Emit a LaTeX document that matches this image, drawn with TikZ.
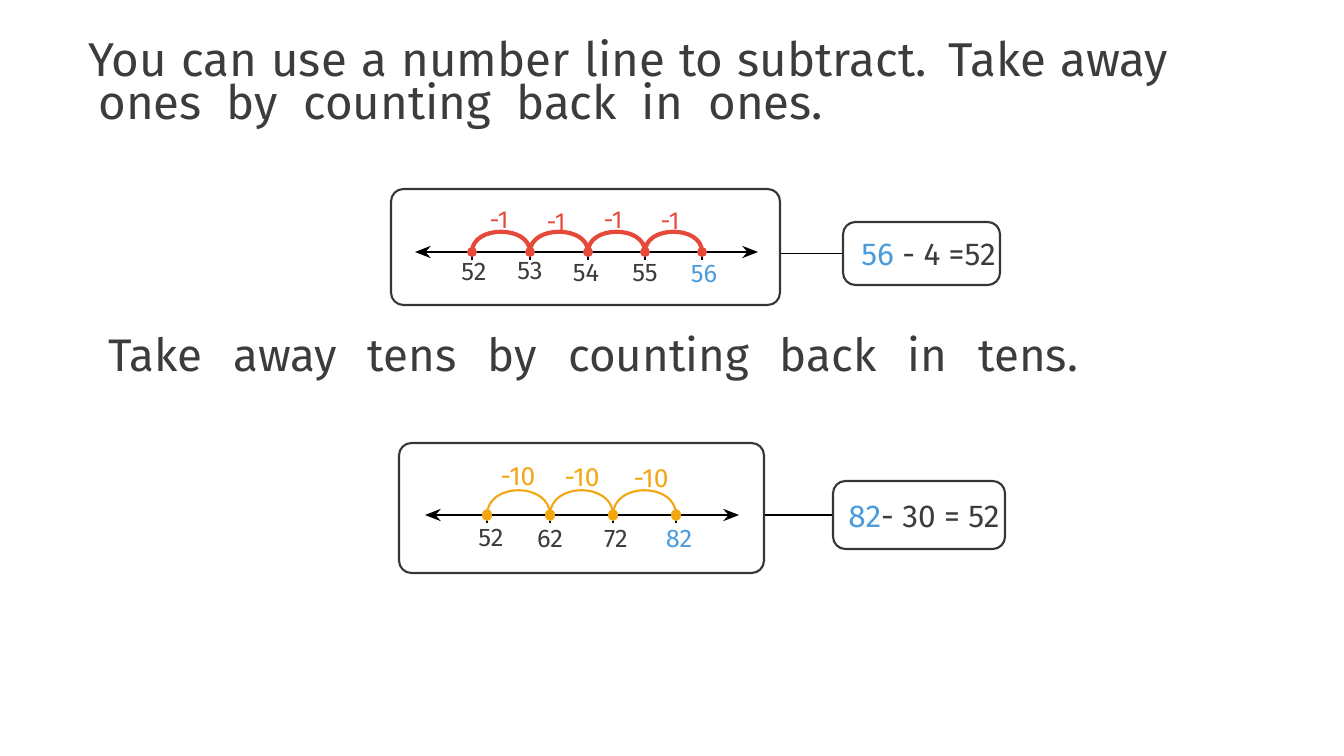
\documentclass[tikz,border=0pt]{standalone}
\usepackage{fontspec}
\setmainfont{Fira Sans}
\usetikzlibrary{arrows.meta,calc}
\definecolor{ink}{HTML}{3C3C3C}
\definecolor{redarc}{HTML}{E5493A}
\definecolor{orarc}{HTML}{F3A512}
\definecolor{bluenum}{HTML}{4A9CDC}
\tikzset{
  box/.style={draw=ink!90!black, line width=1.2pt, rounded corners=7pt, minimum width=#1},
  title/.style={anchor=base west, inner sep=0pt, text=ink},
  num/.style={text=ink, inner sep=0pt, font=\fontsize{14.5}{16}\selectfont},
  redlab/.style={text=redarc, inner sep=0pt, font=\fontsize{14}{16}\selectfont},
  orlab/.style={text=orarc, inner sep=0pt, font=\fontsize{15}{17}\selectfont},
  eq/.style={text=ink, inner sep=0pt, anchor=west, font=\fontsize{18}{20}\selectfont},
  nline/.style={line width=0.9pt, black, {Stealth[length=9pt,width=7pt,inset=3pt]}-{Stealth[length=9pt,width=7pt,inset=3pt]}},
  tick/.style={line width=0.8pt, black},
  redjump/.style={redarc, line width=2.4pt},
  orjump/.style={orarc, line width=1.2pt},
  link/.style={line width=1pt, black},
}
\begin{document}
\begin{tikzpicture}[x=0.02cm, y=-0.02cm]
\useasboundingbox (0,0) rectangle (1344,756);
% titles
\node[title, font=\fontsize{27}{30}\selectfont] (t1) at (88,77) {\makebox[21.6cm][s]{You can use a number line to subtract. Take away}};
\node[title, font=\fontsize{27}{30}\selectfont] (t2) at (98,120) {\makebox[14.5cm][s]{ones by counting back in ones.}};
\node[title, font=\fontsize{26}{30}\selectfont] (t3) at (108,372) {\makebox[19.4cm][s]{Take away tens by counting back in tens.}};

% ---- box 1
\node[box=7.78cm, minimum height=2.32cm] (b1) at (585.5,247) {};
\coordinate (l1a) at (415,252);
\coordinate (l1b) at (758,252);
\draw[nline] (l1a) -- (l1b);
\foreach \n/\x in {52/472,53/530,54/588,55/645,56/702}{
  \coordinate (p\n) at (\x,252);
  \draw[tick] (p\n) -- ++(0,8);
}
\foreach \a/\b in {52/53,53/54,54/55,55/56}{
  \draw[redjump] (p\a) .. controls ($(p\a)+(0,-27)$) and ($(p\b)+(0,-27)$) .. (p\b);
}
\foreach \n in {52,53,54,55,56}{
  \fill[redarc] (p\n) circle (0.1cm);
}
\node[num] (n52) at (474,272) {52};
\node[num] (n53) at (530,271) {53};
\node[num] (n54) at (586,273) {54};
\node[num] (n55) at (645,273) {55};
\node[num, text=bluenum] (n56) at (704,274) {56};
\node[redlab] (m1) at (499,220) {-1};
\node[redlab] (m2) at (556,222) {-1};
\node[redlab] (m3) at (613,220) {-1};
\node[redlab] (m4) at (670,221) {-1};

% ---- box 2
\node[box=3.14cm, minimum height=1.26cm] (b2) at (921.5,253.5) {};
\node[eq] (e1) at (861,255) {\textcolor{bluenum}{56} - 4 =52};
\draw[link] (b2.west) -- (b2.west -| b1.east);

% ---- box 3
\node[box=7.3cm, minimum height=2.6cm] (b3) at (581.5,508) {};
\coordinate (l3a) at (425,515);
\coordinate (l3b) at (739,515);
\draw[nline] (l3a) -- (l3b);
\foreach \n/\x in {52/487,62/550,72/613,82/676}{
  \coordinate (q\n) at (\x,515);
  \draw[tick] (q\n) -- ++(0,8);
}
\foreach \a/\b in {52/62,62/72,72/82}{
  \draw[orjump] (q\a) .. controls ($(q\a)+(0,-33)$) and ($(q\b)+(0,-33)$) .. (q\b);
}
\foreach \n in {52,62,72,82}{
  \fill[orarc] (q\n) ellipse (0.1cm and 0.12cm);
}
\node[num] (r52) at (491,538) {52};
\node[num] (r62) at (550,539) {62};
\node[num] (r72) at (616,539) {72};
\node[num, text=bluenum] (r82) at (679,539) {82};
\node[orlab] (o1) at (518,477) {-10};
\node[orlab] (o2) at (582,478) {-10};
\node[orlab] (o3) at (651,479) {-10};

% ---- box 4
\node[box=3.44cm, minimum height=1.36cm] (b4) at (919,515) {};
\node[eq] (e2) at (848,517) {\textcolor{bluenum}{82}- 30 = 52};
\draw[link] (b4.west) -- (b4.west -| b3.east);
\end{tikzpicture}
\end{document}
